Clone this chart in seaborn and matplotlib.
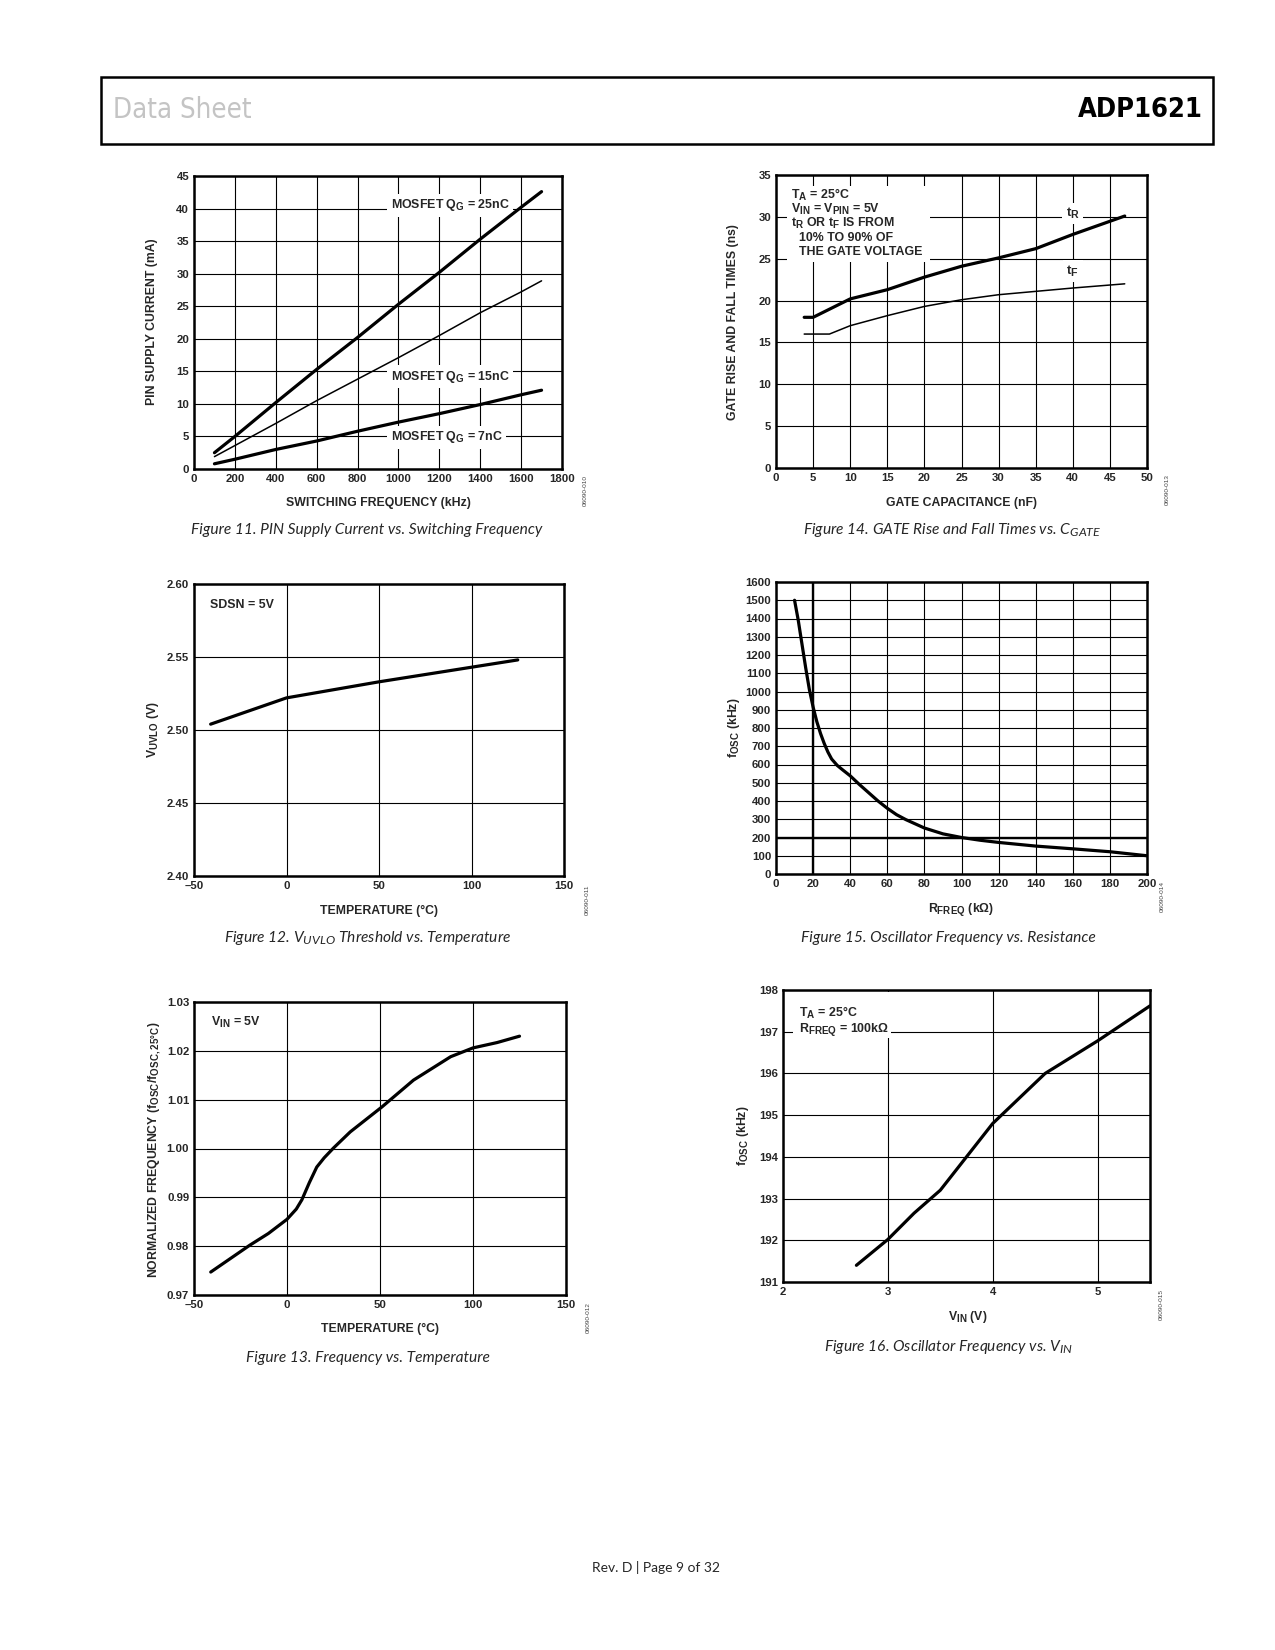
import matplotlib
matplotlib.use("Agg")
import matplotlib.pyplot as plt
import matplotlib._mathtext as mathtext_internal
from matplotlib import font_manager
from matplotlib.patches import Rectangle
import seaborn as sns

# --- Data ---
# Figure 11: PIN supply current vs switching frequency
sw_freq_khz = [100, 200, 400, 600, 800, 1000, 1200, 1400, 1600, 1700]
i_pin_25nc = [2.5, 5.0, 10.2, 15.3, 20.2, 25.3, 30.2, 35.3, 40.2, 42.6]
i_pin_15nc = [1.9, 3.6, 7.0, 10.5, 13.8, 17.1, 20.5, 24.0, 27.2, 28.9]
i_pin_7nc = [0.8, 1.5, 3.0, 4.3, 5.8, 7.2, 8.5, 9.9, 11.4, 12.1]

# Figure 14: gate rise / fall times vs gate capacitance
c_gate_rise = [3.8, 5, 10, 15, 20, 25, 30, 35, 40, 47]
t_rise = [18.0, 18.0, 20.2, 21.3, 22.8, 24.1, 25.1, 26.2, 27.9, 30.1]
c_gate_fall = [3.8, 7.2, 10, 15, 20, 25, 30, 35, 40, 47]
t_fall = [16.0, 16.0, 17.0, 18.2, 19.3, 20.1, 20.7, 21.1, 21.5, 22.0]

# Figure 12: UVLO threshold vs temperature
uvlo_temp = [-41, 0, 50, 100, 125]
uvlo_v = [2.504, 2.522, 2.533, 2.543, 2.548]

# Figure 15: oscillator frequency vs resistance
r_freq = [10, 12, 14, 16, 18, 20, 22, 24, 26, 28, 30, 33, 36, 40, 45, 50, 55,
          60, 65, 70, 80, 90, 100, 110, 120, 140, 160, 180, 200]
f_osc_r = [1500, 1390, 1260, 1130, 1010, 915, 835, 770, 715, 668, 630, 595,
           570, 538, 490, 445, 400, 360, 325, 298, 252, 220, 200, 185, 173,
           153, 138, 122, 100]

# Figure 13: normalized frequency vs temperature
nf_temp = [-41, -20, -10, 0, 5, 8, 12, 16, 20, 25, 34, 51, 68, 88, 100, 113, 125]
nf_val = [0.9747, 0.9802, 0.9826, 0.9855, 0.9876, 0.9895, 0.9930, 0.9962,
          0.9981, 1.0001, 1.0034, 1.0085, 1.0140, 1.0188, 1.0206, 1.0217, 1.0230]

# Figure 16: oscillator frequency vs VIN
vin = [2.7, 3.0, 3.25, 3.5, 3.75, 4.0, 4.25, 4.5, 5.0, 5.5]
f_osc_vin = [191.4, 192.02, 192.65, 193.2, 194.0, 194.8, 195.4, 196.0, 196.78, 197.62]

# tick labels
fig11_xt = [0, 200, 400, 600, 800, 1000, 1200, 1400, 1600, 1800]
fig11_yt = [0, 5, 10, 15, 20, 25, 30, 35, 40, 45]
fig14_xt = [0, 5, 10, 15, 20, 25, 30, 35, 40, 45, 50]
fig14_yt = [0, 5, 10, 15, 20, 25, 30, 35]
temp_xt = [-50, 0, 50, 100, 150]
temp_xl = ["\u201350", "0", "50", "100", "150"]
fig12_yt = [2.40, 2.45, 2.50, 2.55, 2.60]
fig12_yl = ["2.40", "2.45", "2.50", "2.55", "2.60"]
fig15_xt = list(range(0, 201, 20))
fig15_yt = list(range(0, 1601, 100))
fig13_yt = [0.97, 0.98, 0.99, 1.00, 1.01, 1.02, 1.03]
fig13_yl = ["0.97", "0.98", "0.99", "1.00", "1.01", "1.02", "1.03"]
fig16_xt = [2, 3, 4, 5]
fig16_yt = [191, 192, 193, 194, 195, 196, 197, 198]

W, H = 1275, 1650

sns.set_style("white")
plt.rcParams["font.family"] = ["Liberation Sans", "DejaVu Sans"]
plt.rcParams["font.weight"] = "bold"
plt.rcParams["mathtext.default"] = "regular"
# datasheet subscripts are only a little smaller than the main text
mathtext_internal.SHRINK_FACTOR = 0.8

fig = plt.figure(figsize=(W / 100, H / 100), dpi=100)

CAP_FONT = ["Lato", "DejaVu Sans"]
THICK, THIN = 2.3, 1.1
ANN = 8.9


def fx(x):
    return x / W


def fy(y):
    return 1 - y / H


def panel(box, xlim, ylim, xt, yt, xl=None, yl=None):
    l, t, r, b = box
    ax = fig.add_axes([fx(l), fy(b), (r - l) / W, (b - t) / H])
    ax.set_xlim(xlim)
    ax.set_ylim(ylim)
    ax.set_xticks(xt)
    ax.set_yticks(yt)
    if xl is not None:
        ax.set_xticklabels(xl)
    if yl is not None:
        ax.set_yticklabels(yl)
    ax.grid(True, color="black", linewidth=0.8)
    ax.tick_params(length=0, labelsize=8.2, pad=3.5)
    for s in ax.spines.values():
        s.set_linewidth(1.8)
        s.set_color("black")
    return ax


def labels(xlab, xpos, ylab, ypos, caption, cpos, code, codepos):
    fig.text(fx(xpos[0]), fy(xpos[1]), xlab, ha="center", va="center", fontsize=8.8)
    fig.text(fx(ypos[0]), fy(ypos[1]), ylab, ha="center", va="center", fontsize=8.8,
             rotation=90)
    fig.text(fx(cpos[0]), fy(cpos[1]), caption, ha="center", va="center",
             family=CAP_FONT, style="italic", weight="normal", fontsize=11.2)
    fig.text(fx(codepos[0]), fy(codepos[1]), code, ha="center", va="center",
             rotation=90, fontsize=4.6, weight="normal", color="#444444")


wbox = dict(facecolor="white", edgecolor="none", pad=2.5)

# --- Figure 11 ---
ax = panel((194, 176, 562, 469), (0, 1800), (0, 45), fig11_xt, fig11_yt)
sns.lineplot(x=sw_freq_khz, y=i_pin_25nc, ax=ax, color="black", linewidth=THICK)
sns.lineplot(x=sw_freq_khz, y=i_pin_15nc, ax=ax, color="black", linewidth=THIN)
sns.lineplot(x=sw_freq_khz, y=i_pin_7nc, ax=ax, color="black", linewidth=THICK)
for ty, s in [(40.5, "MOSFET Q$_G$ = 25nC"), (14.2, "MOSFET Q$_G$ = 15nC"),
              (4.9, "MOSFET Q$_G$ = 7nC")]:
    ax.text(962, ty, s, ha="left", va="center", fontsize=ANN, bbox=wbox, zorder=1.9)
labels("SWITCHING FREQUENCY (kHz)", (378, 503), "PIN SUPPLY CURRENT (mA)", (152, 322),
       "Figure 11. PIN Supply Current vs. Switching Frequency", (367, 530),
       "06090-010", (585, 490))

# --- Figure 14 ---
ax = panel((776, 175, 1147, 468), (0, 50), (0, 35), fig14_xt, fig14_yt)
sns.lineplot(x=c_gate_rise, y=t_rise, ax=ax, color="black", linewidth=THICK)
sns.lineplot(x=c_gate_fall, y=t_fall, ax=ax, color="black", linewidth=THIN)
ax.add_patch(Rectangle((1.5, 24.6), 19.2, 9.1, facecolor="white", edgecolor="none",
                       zorder=1.8))
for tx, ty, s in [(2.0, 32.65, "T$_A$ = 25\u00b0C"),
                  (2.0, 30.94, "V$_{IN}$ = V$_{PIN}$ = 5V"),
                  (2.0, 29.27, "t$_R$ OR t$_F$ IS FROM"),
                  (3.1, 27.5, "10% TO 90% OF"),
                  (3.1, 25.84, "THE GATE VOLTAGE")]:
    ax.text(tx, ty, s, ha="left", va="center", fontsize=ANN)
ax.text(40, 30.4, "t$_R$", ha="center", va="center", fontsize=9.5, bbox=wbox, zorder=1.9)
ax.text(40, 23.5, "t$_F$", ha="center", va="center", fontsize=9.5, bbox=wbox, zorder=1.9)
labels("GATE CAPACITANCE (nF)", (961, 503), "GATE RISE AND FALL TIMES (ns)", (733, 322),
       "Figure 14. GATE Rise and Fall Times vs. C$_{GATE}$", (952, 530),
       "06090-013", (1167, 490))

# --- Figure 12 ---
ax = panel((194, 584, 564, 876), (-50, 150), (2.40, 2.60), temp_xt, fig12_yt,
           temp_xl, fig12_yl)
sns.lineplot(x=uvlo_temp, y=uvlo_v, ax=ax, color="black", linewidth=THICK)
ax.text(-41.5, 2.5856, "SDSN = 5V", ha="left", va="center", fontsize=ANN)
labels("TEMPERATURE (\u00b0C)", (379, 911), "V$_{UVLO}$ (V)", (153, 730),
       "Figure 12. V$_{UVLO}$ Threshold vs. Temperature", (368, 938),
       "06090-011", (587, 900))

# --- Figure 15 ---
ax = panel((776, 582, 1147, 874), (0, 200), (0, 1600), fig15_xt, fig15_yt)
ax.axvline(20, color="black", linewidth=1.7, zorder=1.6)
ax.axhline(200, color="black", linewidth=1.7, zorder=1.6)
sns.lineplot(x=r_freq, y=f_osc_r, ax=ax, color="black", linewidth=THICK)
labels("R$_{FREQ}$ (k\u03a9)", (961, 910), "f$_{OSC}$ (kHz)", (734, 728),
       "Figure 15. Oscillator Frequency vs. Resistance", (948, 938),
       "06090-014", (1162, 897))

# --- Figure 13 ---
ax = panel((194, 1002, 566, 1295), (-50, 150), (0.97, 1.03), temp_xt, fig13_yt,
           temp_xl, fig13_yl)
sns.lineplot(x=nf_temp, y=nf_val, ax=ax, color="black", linewidth=THICK)
ax.text(-40.7, 1.0258, "V$_{IN}$ = 5V", ha="left", va="center", fontsize=ANN)
labels("TEMPERATURE (\u00b0C)", (380, 1329),
       "NORMALIZED FREQUENCY (f$_{OSC}$/f$_{OSC,25\u00b0C}$)", (155, 1150),
       "Figure 13. Frequency vs. Temperature", (368, 1358),
       "06090-012", (588, 1318))

# --- Figure 16 ---
ax = panel((783, 990, 1150, 1282), (2, 5.5), (191, 198), fig16_xt, fig16_yt)
sns.lineplot(x=vin, y=f_osc_vin, ax=ax, color="black", linewidth=THICK)
ax.add_patch(Rectangle((2.1, 196.85), 0.93, 1.1, facecolor="white", edgecolor="none",
                       zorder=1.8))
ax.text(2.156, 197.44, "T$_A$ = 25\u00b0C", ha="left", va="center", fontsize=ANN)
ax.text(2.156, 197.06, "R$_{FREQ}$ = 100k\u03a9", ha="left", va="center", fontsize=ANN)
labels("V$_{IN}$ (V)", (968, 1317), "f$_{OSC}$ (kHz)", (743, 1136),
       "Figure 16. Oscillator Frequency vs. V$_{IN}$", (949, 1347),
       "06090-015", (1161, 1305))

# --- Page header / footer ---
fig.add_artist(Rectangle((fx(101), fy(144)), (1213 - 101) / W, (144 - 77) / H,
                         transform=fig.transFigure, fill=False, edgecolor="black",
                         linewidth=1.8))

# header wants a condensed face; pick what is installed
fonts = font_manager.fontManager.ttflist
names = {f.name for f in fonts}
head_kw = dict(family=["Liberation Sans", "DejaVu Sans"])
head_sizes = (18.5, 18)
if "Liberation Sans Narrow" in names:
    head_kw = dict(family=["Liberation Sans Narrow", "DejaVu Sans"])
    head_sizes = (22.5, 22)
elif any(f.name == "DejaVu Sans" and "Condensed" in f.fname for f in fonts):
    head_kw = dict(family=["DejaVu Sans"], fontstretch="condensed")
    head_sizes = (19.8, 19.5)

fig.text(fx(113), fy(110), "Data Sheet", ha="left", va="center", weight="normal",
         color="#c4c4c4", fontsize=head_sizes[0], **head_kw)
fig.text(fx(1203), fy(110), "ADP1621", ha="right", va="center", weight="bold",
         color="black", fontsize=head_sizes[1], **head_kw)
fig.text(fx(656), fy(1567), "Rev. D | Page 9 of 32", ha="center", va="center",
         family=CAP_FONT, weight="normal", fontsize=10)

fig.savefig("out.png", dpi=100, facecolor="white")
